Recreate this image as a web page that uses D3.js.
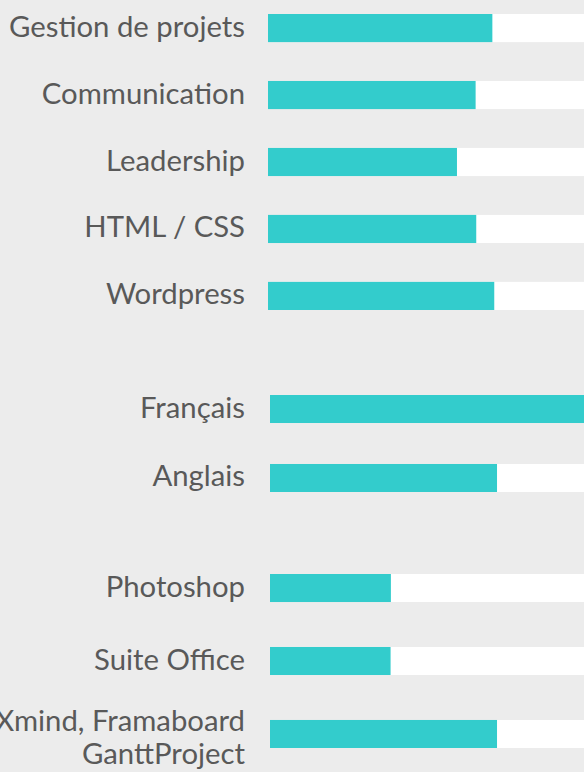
<!DOCTYPE html>
<html>
<head>
<meta charset="utf-8">
<script src="https://cdn.jsdelivr.net/npm/d3@7"></script>
<style>
  html, body { margin: 0; padding: 0; background: #ececec; }
  svg { display: block; }
  .label { font-family: Lato, "Open Sans", sans-serif; fill: #595959; }
</style>
</head>
<body>
<div id="chart"></div>
<script>
// skills, languages, software - values read as % of the bar track
var skills = ["Gestion de projets", "Communication", "Leadership", "HTML / CSS", "Wordpress"];
var skillValues = [71, 65.7, 59.8, 65.9, 71.6];

var languages = ["Français", "Anglais"];
var languageValues = [100, 72.3];

var software = ["Photoshop", "Suite Office", "Xmind, Framaboard\nGanttProject"];
var softwareValues = [38.5, 38.4, 72.3];

var width = 584, height = 772;

// one block per group (top / bottom of the first & last bar, left edge of bars)
var groups = [
    {names: skills, values: skillValues, top: 14, bottom: 310, left: 268, pad: 0.58},
    {names: languages, values: languageValues, top: 395, bottom: 492, left: 270, pad: 0.594},
    {names: software, values: softwareValues, top: 574, bottom: 748, left: 270, pad: 0.616}
];

var svg = d3.select("#chart").append("svg")
    .attr("width", width)
    .attr("height", height);

svg.append("rect")
    .attr("width", width)
    .attr("height", height)
    .attr("fill", "#ececec");

var fontSize = 29.3;
var labelX = 245;

groups.forEach(function(grp){
    var y = d3.scaleBand()
        .domain(grp.names)
        .range([grp.top, grp.bottom])
        .paddingInner(grp.pad)
        .paddingOuter(0);

    var x = d3.scaleLinear()
        .domain([0, 100])
        .range([grp.left, width]);

    var rows = grp.names.map(function(n, i){ return {name: n, value: grp.values[i]}; });

    var g = svg.append("g");

    // white track
    g.selectAll(".track")
        .data(rows)
        .enter().append("rect")
        .attr("class", "track")
        .attr("x", x(0))
        .attr("y", function(d){ return y(d.name); })
        .attr("width", x(100) - x(0))
        .attr("height", y.bandwidth())
        .attr("fill", "#ffffff");

    // teal bar
    g.selectAll(".bar")
        .data(rows)
        .enter().append("rect")
        .attr("class", "bar")
        .attr("x", x(0))
        .attr("y", function(d){ return y(d.name); })
        .attr("width", function(d){ return x(d.value) - x(0); })
        .attr("height", y.bandwidth())
        .attr("fill", "#33cccc");

    // labels (may be two lines)
    var labels = g.selectAll(".label")
        .data(rows)
        .enter().append("text")
        .attr("class", "label")
        .attr("text-anchor", "end")
        .attr("font-size", fontSize);

    labels.each(function(d){
        var lines = d.name.split("\n");
        var cy = y(d.name) + y.bandwidth() / 2;
        var lh = 33;
        var t = d3.select(this);
        lines.forEach(function(line, i){
            t.append("tspan")
                .attr("x", labelX)
                .attr("y", cy + (lines.length > 1 ? -3 : 8.5) + i * lh)
                .text(line);
        });
    });
});
</script>
</body>
</html>
